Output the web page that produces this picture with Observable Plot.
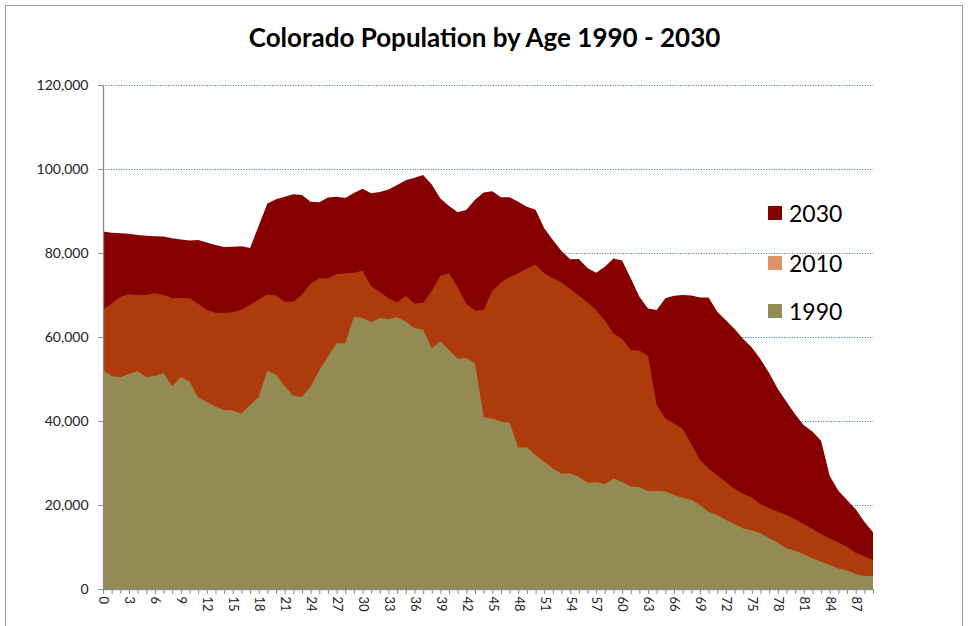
<!DOCTYPE html>
<html><head><meta charset="utf-8">
<script src="https://cdn.jsdelivr.net/npm/d3@7"></script>
<script src="https://cdn.jsdelivr.net/npm/@observablehq/plot@0.6"></script>
<style>
body{margin:0;background:#fff;}
#wrap{position:relative;width:969px;height:626px;overflow:hidden;font-family:Lato,sans-serif;background:#fff;}
#frame{position:absolute;left:5px;top:5px;width:958px;height:660px;border:1px solid #9a9a9a;box-sizing:border-box;}
#title{position:absolute;left:0;width:969px;top:20px;text-align:center;font-weight:bold;font-size:26px;color:#000;line-height:34px;}
#chart{position:absolute;left:0;top:0;}
.leg{position:absolute;left:768px;font-size:23px;display:flex;align-items:center;color:#000;height:26px;}
.sw{width:14px;height:14px;margin-right:7px;}
</style></head>
<body>
<div id="wrap">
  <div id="frame"></div>
  <div id="chart"></div>
  <div id="title">Colorado Population by Age 1990 - 2030</div>
  <div id="legend"></div>
</div>
<script>
const ages = d3.range(0, 90);
const pop1990 = [52100,50700,50400,51200,51900,50500,50700,51400,48300,50500,
49400,45600,44600,43400,42600,42500,41800,43800,45800,52000,
51000,48300,46000,45800,48200,52100,55300,58500,58500,64800,
64500,63500,64500,64300,64700,63700,62100,61700,57300,58900,
56900,54800,55000,53700,40900,40600,39800,39600,33700,33700,
31900,30300,28700,27500,27500,26700,25300,25400,25000,26300,
25500,24400,24300,23300,23400,23200,22400,21700,21200,20000,
18400,17600,16400,15400,14400,14000,13300,12100,11000,9700,
9100,8300,7300,6500,5700,4900,4400,3600,3100,3100];
const pop2010 = [66400,68000,69500,70200,70000,70000,70400,70000,69200,69300,
69200,67900,66400,65800,65700,65900,66500,67700,68900,70100,
69900,68400,68400,70100,72700,74000,73900,75000,75100,75300,
75800,72000,70800,69200,68200,69800,68000,68100,71000,74600,
75200,71800,67900,66300,66400,71000,73000,74300,75200,76300,
77200,75200,74000,73000,71400,69800,68200,66400,63900,60900,
59500,56900,56800,55500,43800,40600,39400,38100,34500,30700,
28700,27100,25400,23800,22600,21800,20200,19200,18400,17600,
16600,15400,14300,13100,12100,11100,10100,8600,7800,6900];
const pop2030 = [85100,84800,84700,84600,84300,84100,84000,83900,83500,83200,
83000,83100,82500,81900,81400,81500,81600,81200,86500,91800,
92800,93400,94000,93800,92200,92100,93200,93400,93100,94300,
95300,94200,94500,95100,96200,97300,97900,98600,96300,93000,
91200,89700,90300,92700,94400,94700,93300,93300,92200,91000,
90300,85900,83100,80500,78500,78600,76400,75300,76700,78700,
78200,74000,69600,66800,66400,69200,69800,70000,69900,69400,
69400,66000,64000,61900,59500,57500,54700,51400,47600,44600,
41600,39000,37500,35300,26900,23400,21200,19000,16000,13500];
const yTicks = [0,20000,40000,60000,80000,100000,120000];
const xLabelStep = 3;
const years = ["2030","2010","1990"];
const fillColors = ["#870000","#AE3B0B","#948A54"];
const legendColors = ["#870000","#DE9366","#948A54"];
const seriesVals = [pop2030, pop2010, pop1990];

const rowsFor = vals => vals.map((v,i)=>({age: ages[i], pop: v}));

const chart = Plot.plot({
  width: 969, height: 626,
  marginLeft: 103, marginRight: 96, marginTop: 85, marginBottom: 37,
  style: {fontFamily: "Lato, sans-serif", fontSize: "14px", color: "#222", background: "transparent"},
  x: {domain: [0, 89]},
  y: {domain: [0, 120000]},
  marks: [
    Plot.ruleY(yTicks.filter(d => d > 0), {stroke: "#2f63c0", strokeDasharray: "1,1.6", strokeWidth: 1.2}),
    ...seriesVals.map((vals, k) => Plot.areaY(rowsFor(vals), {x: "age", y: "pop", fill: fillColors[k]})),
    Plot.ruleX([0], {stroke: "#8c8c8c", strokeWidth: 1.3}),
    Plot.ruleY([0], {stroke: "#8c8c8c", strokeWidth: 1.3}),
    Plot.axisY({ticks: yTicks, tickFormat: d3.format(","), tickSize: 5, tickPadding: 10, stroke: "#8c8c8c", fontSize: 14, label: null}),
    Plot.axisX({ticks: ages, tickFormat: d => d % xLabelStep === 0 ? String(d) : "", tickSize: 5, tickPadding: 2, tickRotate: 90, stroke: "#8c8c8c", fontSize: 13, label: null})
  ]
});
document.getElementById("chart").appendChild(chart);

const legend = document.getElementById("legend");
const legTops = [200, 250, 298];
years.forEach((y, k) => {
  const d = document.createElement("div");
  d.className = "leg";
  d.style.top = legTops[k] + "px";
  d.innerHTML = `<div class="sw" style="background:${legendColors[k]}"></div><span>${y}</span>`;
  legend.appendChild(d);
});
</script>
</body></html>
